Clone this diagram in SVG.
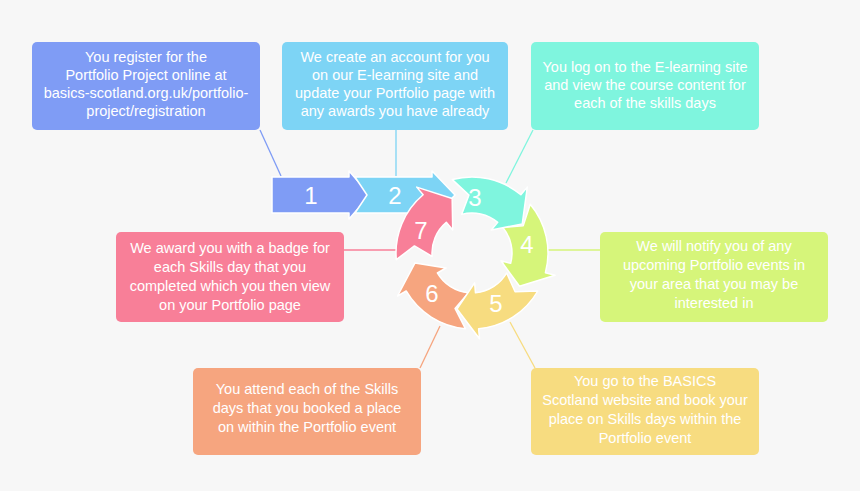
<svg xmlns="http://www.w3.org/2000/svg" width="860" height="491" viewBox="0 0 860 491">
<style>
.t{font-family:"Liberation Sans",Arial,sans-serif;font-size:14.5px;fill:#fff;text-anchor:middle}
.n{font-family:"Liberation Sans",Arial,sans-serif;font-size:24px;fill:#fff;text-anchor:middle}
.s{stroke:#fff;stroke-width:1.5;stroke-linejoin:round}
.c{stroke-width:1.3;fill:none}
</style>
<defs>
<path id="seg" d="M76,0 A76,76 0 0 1 43.59,62.26 L49.33,70.45 L15.01,56.02 L17.21,24.57 L22.94,32.77 A40,40 0 0 0 40,0 L56.73,12.06 Z"/>
</defs>
<rect width="860" height="491" fill="#f7f7f7"/>
<g id="connectors">
<line class="c" stroke="#7f9cf5" x1="260" y1="130" x2="281" y2="176"/>
<line class="c" stroke="#7dd4f5" x1="396" y1="130" x2="396" y2="176"/>
<line class="c" stroke="#7ff5de" x1="533" y1="130" x2="506" y2="183"/>
<line class="c" stroke="#d6f57a" x1="548" y1="250" x2="600" y2="250"/>
<line class="c" stroke="#f7dc80" x1="510" y1="322" x2="535" y2="368"/>
<line class="c" stroke="#f6a57f" x1="440" y1="326" x2="420" y2="368"/>
<line class="c" stroke="#f87f98" x1="344" y1="250" x2="397" y2="250"/>
</g>
<g id="cycle" transform="translate(472,253)">
<use href="#seg" class="s" fill="#f6a57f" transform="rotate(95)"/>
<use href="#seg" class="s" fill="#f7dc80" transform="rotate(30)"/>
<use href="#seg" class="s" fill="#d6f57a" transform="rotate(-40)"/>
<use href="#seg" class="s" fill="#7ff5de" transform="rotate(-105)"/>
</g>
<g id="step1"><path class="s" fill="#7f9cf5" d="M272,177 H349 V171 L370,195 L349,219 V213 H272 Z"/><text class="n" x="311" y="204">1</text></g>
<g id="step2"><path class="s" fill="#7dd4f5" d="M355,177 H432 V171 L455,195 L432,219 V213 H355 L367,195 Z"/><text class="n" x="395" y="204">2</text></g>
<g id="step7"><use href="#seg" class="s" fill="#f87f98" transform="translate(472,253) rotate(175)"/></g>
<text class="n" x="475" y="206">3</text>
<text class="n" x="527" y="253">4</text>
<text class="n" x="496" y="312">5</text>
<text class="n" x="432" y="302">6</text>
<text class="n" x="421" y="239">7</text>
<g id="box1"><rect x="32" y="42" width="228" height="88" rx="5" fill="#7f9cf5"/>
<text class="t" x="146" y="62">You register for the</text><text class="t" x="146" y="80">Portfolio Project online at</text><text class="t" x="146" y="98">basics-scotland.org.uk/portfolio-</text><text class="t" x="146" y="116">project/registration</text></g>
<g id="box2"><rect x="282" y="42" width="226" height="88" rx="5" fill="#7dd4f5"/>
<text class="t" x="395" y="62">We create an account for you</text><text class="t" x="395" y="80">on our E-learning site and</text><text class="t" x="395" y="98">update your Portfolio page with</text><text class="t" x="395" y="116">any awards you have already</text></g>
<g id="box3"><rect x="531" y="42" width="228" height="88" rx="5" fill="#7ff5de"/>
<text class="t" x="645" y="72">You log on to the E-learning site</text><text class="t" x="645" y="90">and view the course content for</text><text class="t" x="645" y="108">each of the skills days</text></g>
<g id="box4"><rect x="600" y="232" width="228" height="90" rx="5" fill="#d6f57a"/>
<text class="t" x="714" y="251">We will notify you of any</text><text class="t" x="714" y="270">upcoming Portfolio events in</text><text class="t" x="714" y="289">your area that you may be</text><text class="t" x="714" y="308">interested in</text></g>
<g id="box5"><rect x="531" y="368" width="228" height="87" rx="5" fill="#f7dc80"/>
<text class="t" x="645" y="386">You go to the BASICS</text><text class="t" x="645" y="405">Scotland website and book your</text><text class="t" x="645" y="424">place on Skills days within the</text><text class="t" x="645" y="443">Portfolio event</text></g>
<g id="box6"><rect x="193" y="368" width="228" height="87" rx="5" fill="#f6a57f"/>
<text class="t" x="307" y="394">You attend each of the Skills</text><text class="t" x="307" y="413">days that you booked a place</text><text class="t" x="307" y="432">on within the Portfolio event</text></g>
<g id="box7"><rect x="116" y="232" width="228" height="90" rx="5" fill="#f87f98"/>
<text class="t" x="230" y="253">We award you with a badge for</text><text class="t" x="230" y="272">each Skills day that you</text><text class="t" x="230" y="291">completed which you then view</text><text class="t" x="230" y="310">on your Portfolio page</text></g>
</svg>
